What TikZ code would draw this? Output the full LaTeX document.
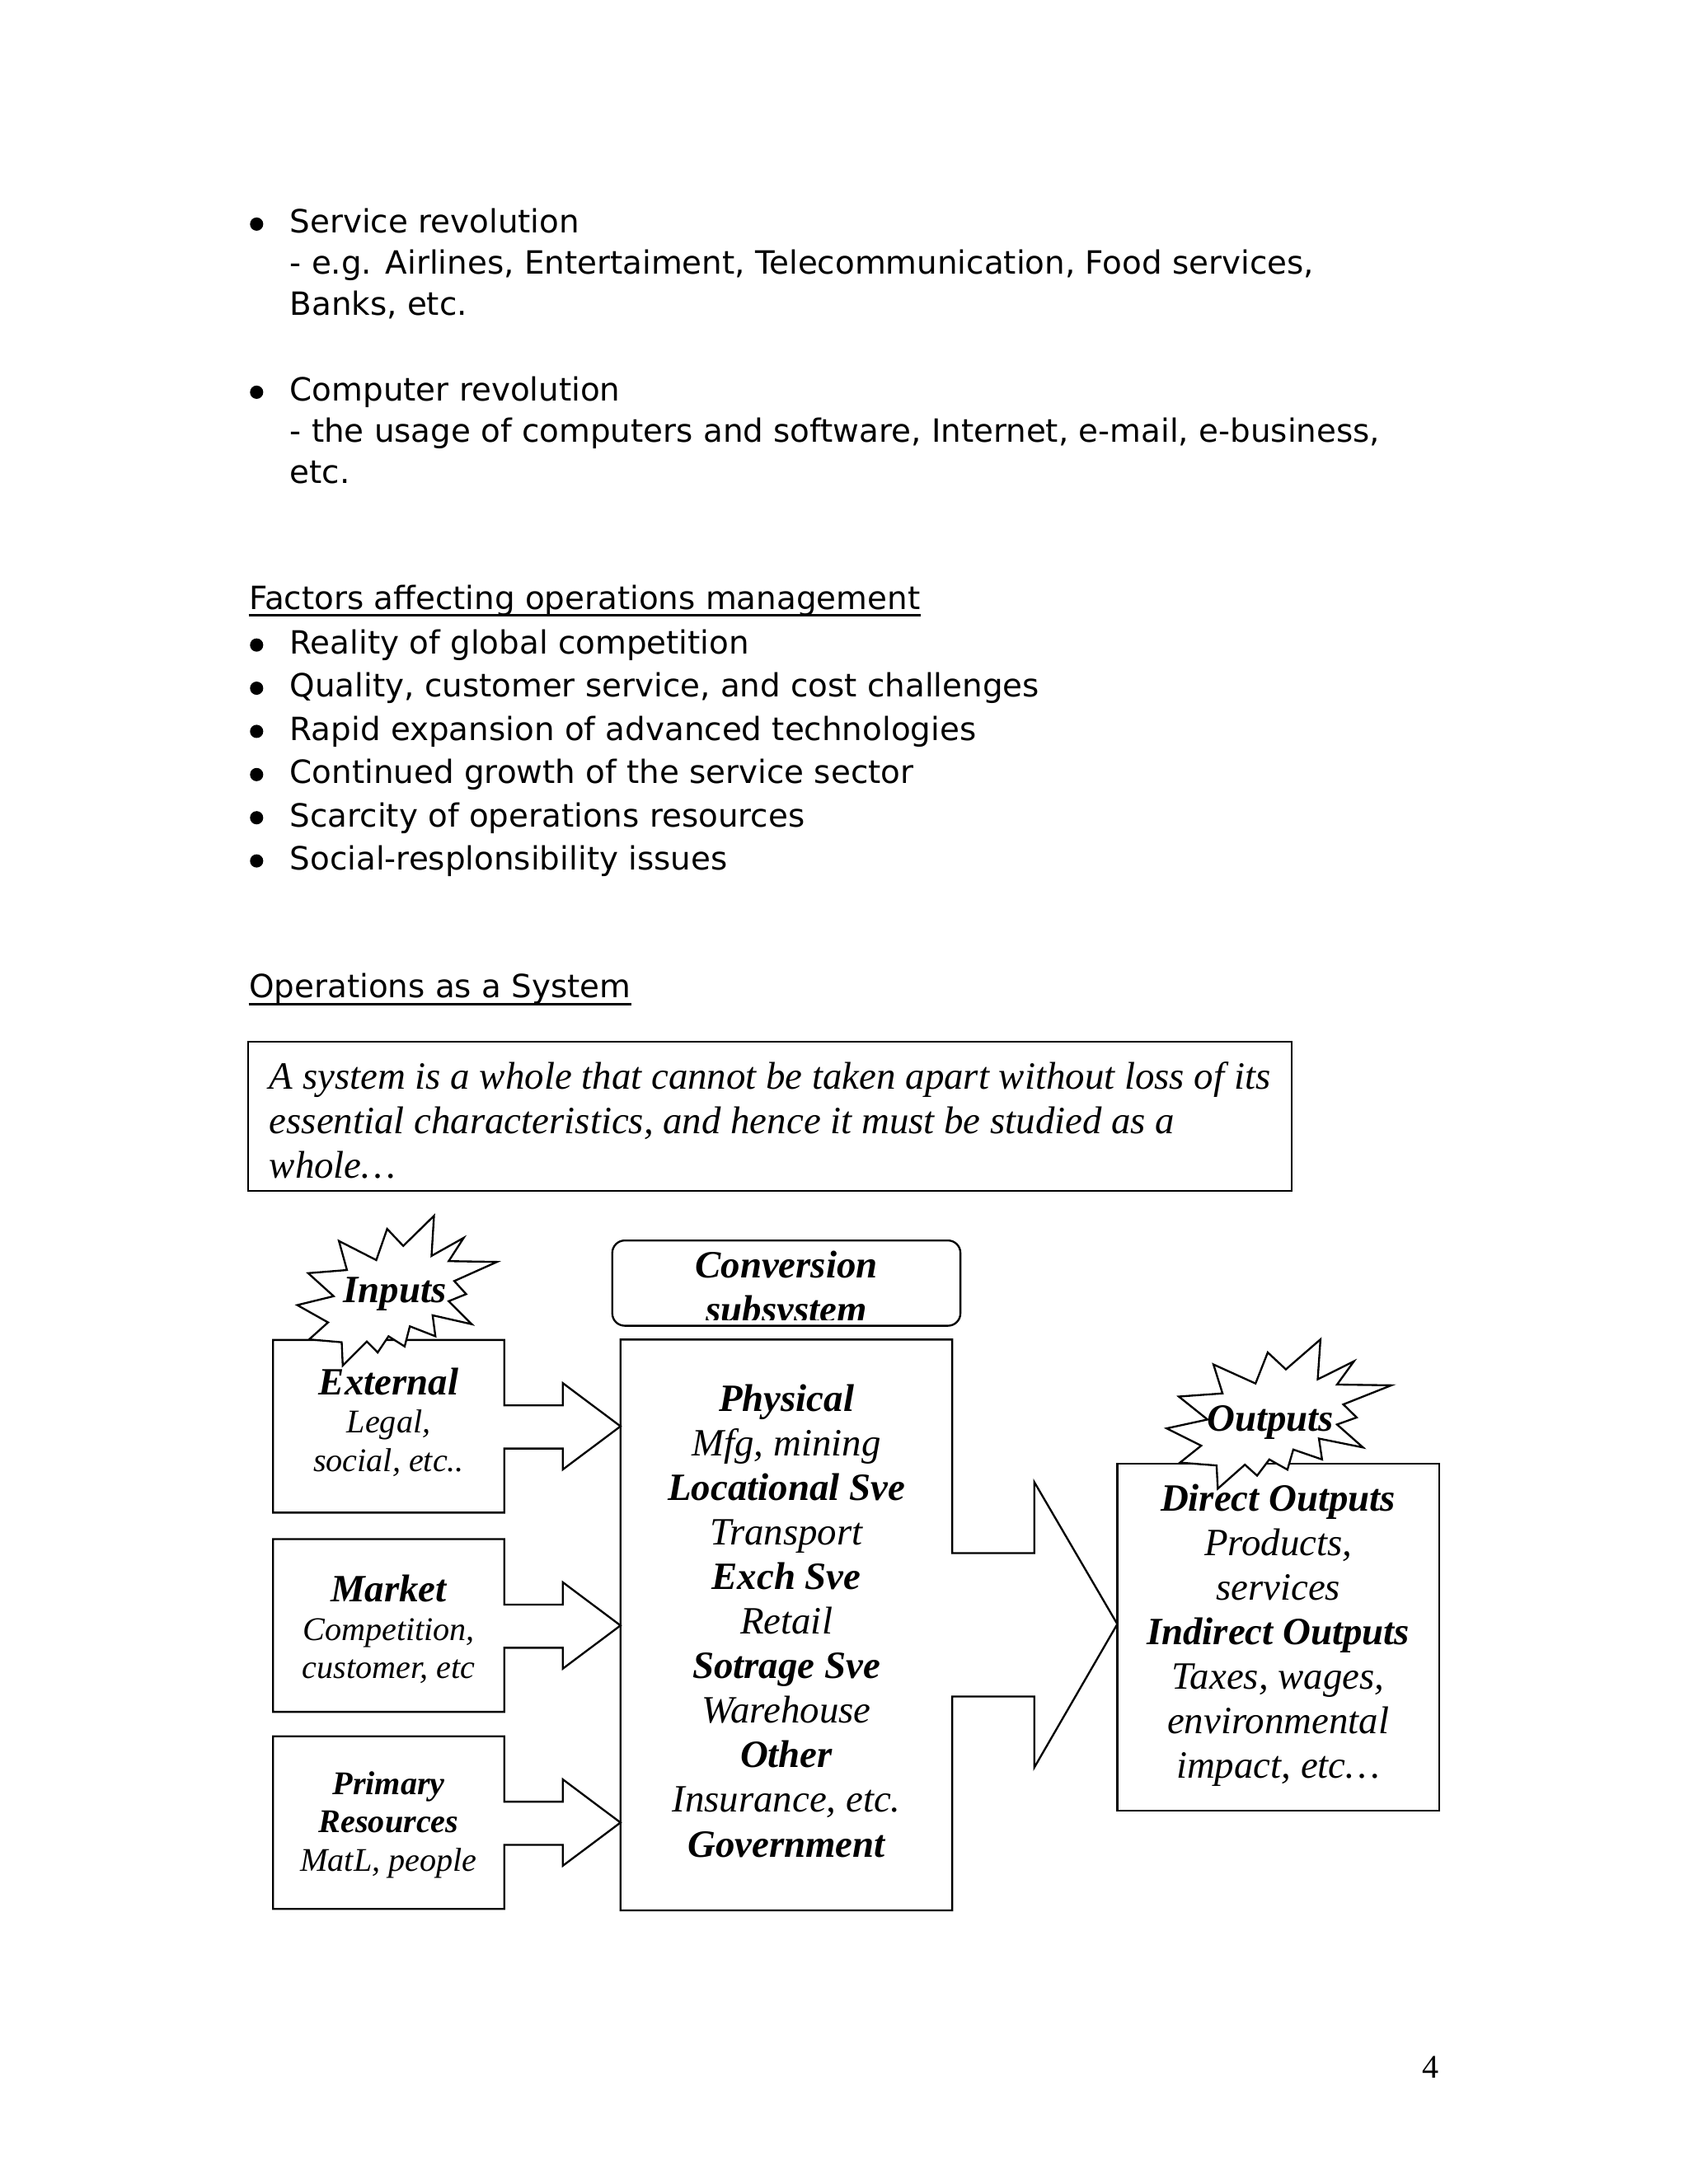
\documentclass[tikz,border=0pt]{standalone}
\usepackage{fontspec}
\setmainfont{DejaVu Sans}
\newfontfamily\dgfont{Liberation Serif}
\newfontfamily\numfont{Liberation Serif}
\usepackage{tikz}
\usetikzlibrary{positioning}

\newcommand{\bodysize}{\fontsize{11.6}{14.95}\selectfont}
\newcommand{\bigdg}{\dgfont\fontsize{14}{16.16}\selectfont}
\newcommand{\smalldg}{\dgfont\fontsize{12}{13.9}\selectfont}

\begin{document}
\begin{tikzpicture}[x=0.50495pt, y=-0.50495pt,
    body/.style={font=\bodysize, anchor=base west, inner sep=0pt},
    bulletdot/.style={circle, fill=black, inner sep=0pt, minimum size=4.8pt},
    uline/.style={line width=0.8pt},
    boxpath/.style={draw=black, line width=0.7pt, fill=white, line join=miter},
    bigtext/.style={font=\bigdg\itshape, align=center, inner sep=0pt},
    smalltext/.style={font=\smalldg\itshape, align=center, inner sep=0pt},
    burst/.pic={\draw[boxpath] (53.07,20.09) -- (45.01,8.74) -- (39.57,29.55)
      -- (20.85,16.79) -- (24.88,36.19) -- (5.44,38.29) -- (18.21,53.67)
      -- (0,59.61) -- (15.41,71.17) -- (5.94,82.52) -- (22.24,84.44)
      -- (22.77,100) -- (34.84,83.91) -- (40.27,91.26) -- (45.70,80.42)
      -- (53.77,87.24) -- (56.38,73.78) -- (69.18,80.42) -- (67.78,66.43)
      -- (87.40,72.37) -- (75.84,57.00) -- (84.58,52.28) -- (78.64,43.54)
      -- (100,30.77) -- (75.84,30.25) -- (83.36,14.69) -- (67.24,26.75)
      -- (68.47,0) -- cycle;}
  ]
    \useasboundingbox (0,0) rectangle (1212,1568);
    \fill[white] (0,0) rectangle (1212,1568);

    % revolutions
    \node[bulletdot] (b1) at (184.2,160.9) {};
    \node[body] (srv1) at (207.7,167.3) {Service revolution};
    \node[body] (srv2) at (207.7,196.9) {- e.g. Airlines, Entertaiment, Telecommunication, Food services,};
    \node[body] (srv3) at (207.7,226.5) {Banks, etc.};
    \node[bulletdot] (b2) at (184.2,281.6) {};
    \node[body] (cmp1) at (207.7,288.0) {Computer revolution};
    \node[body] (cmp2) at (207.7,317.6) {- the usage of computers and software, Internet, e-mail, e-business,};
    \node[body] (cmp3) at (207.7,347.3) {etc.};

    % factors
    \node[body] (fac) at (178.5,437.5) {Factors affecting operations management};
    \draw[uline] ([yshift=-2.2pt]fac.base west) -- ([yshift=-2.2pt]fac.base east);
    \node[bulletdot] (f1d) at (184.2,463.1) {};
    \node[body] (f1) at (207.7,469.5) {Reality of global competition};
    \node[bulletdot] (f2d) at (184.2,494.1) {};
    \node[body] (f2) at (207.7,500.5) {Quality, customer service, and cost challenges};
    \node[bulletdot] (f3d) at (184.2,525.1) {};
    \node[body] (f3) at (207.7,531.5) {Rapid expansion of advanced technologies};
    \node[bulletdot] (f4d) at (184.2,556.1) {};
    \node[body] (f4) at (207.7,562.5) {Continued growth of the service sector};
    \node[bulletdot] (f5d) at (184.2,587.1) {};
    \node[body] (f5) at (207.7,593.5) {Scarcity of operations resources};
    \node[bulletdot] (f6d) at (184.2,618.1) {};
    \node[body] (f6) at (207.7,624.5) {Social-resplonsibility issues};

    % system
    \node[body] (ops) at (178.5,716.5) {Operations as a System};
    \draw[uline] ([yshift=-2.2pt]ops.base west) -- ([yshift=-2.2pt]ops.base east);
    \draw[boxpath] (178,748) rectangle (927,855);
    \node[bigtext, align=left, anchor=west] (quote) at (193,804.5)
      {A system is a whole that cannot be taken apart without loss of its\\
       essential characteristics, and hence it must be studied as a\\
       whole…};

    % conversion block with output arrow
    \draw[boxpath] (445.4,961.7) -- (683.5,961.7) -- (683.5,1115) -- (742.4,1115)
      -- (742.4,1064) -- (802,1166) -- (742.4,1269) -- (742.4,1218)
      -- (683.5,1218) -- (683.5,1371.5) -- (445.4,1371.5) -- cycle;
    % input blocks with arrows
    \draw[boxpath] (196,962) -- (362,962) -- (362,1009) -- (404,1009) -- (404,993)
      -- (445.4,1024) -- (404,1055) -- (404,1040) -- (362,1040) -- (362,1086)
      -- (196,1086) -- cycle;
    \draw[boxpath] (196,1105) -- (362,1105) -- (362,1152) -- (404,1152) -- (404,1136)
      -- (445.4,1167) -- (404,1198) -- (404,1183) -- (362,1183) -- (362,1229)
      -- (196,1229) -- cycle;
    \draw[boxpath] (196,1246.5) -- (362,1246.5) -- (362,1293.5) -- (404,1293.5)
      -- (404,1277.5) -- (445.4,1308.5) -- (404,1339.5) -- (404,1324.5)
      -- (362,1324.5) -- (362,1370.5) -- (196,1370.5) -- cycle;
    \draw[boxpath] (802,1051) rectangle (1033,1300);

    % conversion title
    \draw[boxpath, rounded corners=4.5pt] (439.5,890.6) rectangle (689.4,951.8);
    \begin{scope}
      \clip (439.5,890.6) rectangle (689.4,947.8);
      \node[bigtext, font=\dgfont\bfseries\itshape\fontsize{14}{16.16}\selectfont]
        (convtitle) at (564.5,926.5) {Conversion\\subsystem};
    \end{scope}

    % bursts
    \pic[xscale=1.433, yscale=1.075] at (213.4,872.9) {burst};
    \node[bigtext, font=\dgfont\bfseries\itshape\fontsize{14}{16}\selectfont,
      anchor=base] (inputs) at (283.5,935) {Inputs};
    \pic[xscale=1.613, yscale=1.072] at (837.4,961.6) {burst};
    \node[bigtext, font=\dgfont\bfseries\itshape\fontsize{14}{16}\selectfont,
      anchor=base] (outputs) at (911.8,1027.7) {Outputs};

    % box texts
    \node[smalltext] (ext) at (279,1020.9)
      {{\bigdg\bfseries External}\\ Legal,\\ social, etc..};
    \node[smalltext] (mkt) at (279,1169.7)
      {{\bigdg\bfseries Market}\\ Competition,\\ customer, etc};
    \node[smalltext] (prim) at (279,1310.1)
      {\textbf{Primary}\\ \textbf{Resources}\\ MatL, people};
    \node[bigtext] (conv) at (564.5,1163.6)
      {\textbf{Physical}\\ Mfg, mining\\ \textbf{Locational Sve}\\ Transport\\
       \textbf{Exch Sve}\\ Retail\\ \textbf{Sotrage Sve}\\ Warehouse\\
       \textbf{Other}\\ Insurance, etc.\\ \textbf{Government}};
    \node[bigtext] (outtext) at (917.5,1174)
      {\textbf{Direct Outputs}\\ Products,\\ services\\ \textbf{Indirect Outputs}\\
       Taxes, wages,\\ environmental\\ impact, etc…};

    \node[font=\numfont\fontsize{12}{14}\selectfont, anchor=base east, inner sep=0pt]
      (pagenum) at (1033,1491.7) {4};
  \end{tikzpicture}
\end{document}
